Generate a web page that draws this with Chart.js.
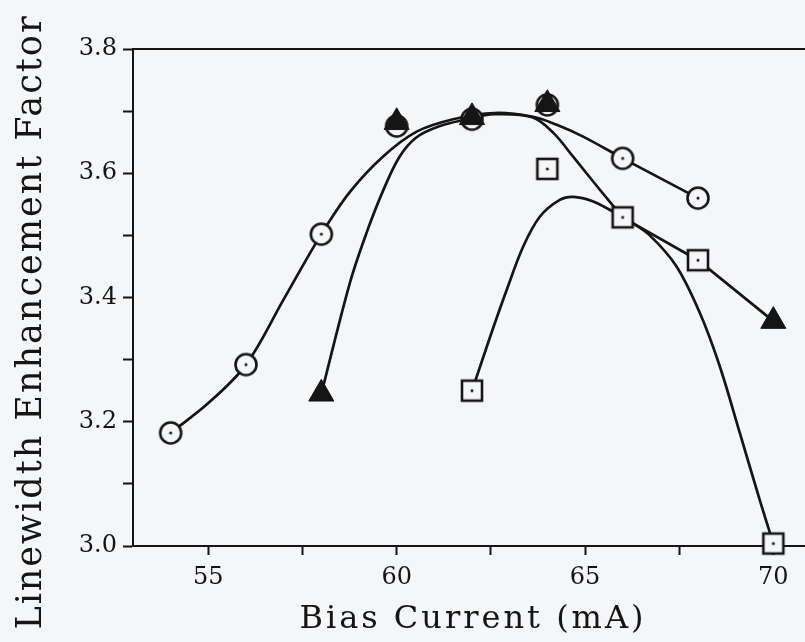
<!DOCTYPE html>
<html lang="en">
<head>
  <meta charset="UTF-8">
  <title>Linewidth Enhancement Factor vs Bias Current</title>
  <style type="text/css">
    body, html {
      margin: 0;
      padding: 0;
      overflow: hidden;
      background-color: #f5f6f8;
    }

    /* a little wider than the window: the right frame sits just off screen */
    #alpha-chart {
      display: block;
    }
  </style>
  <script src="https://cdn.jsdelivr.net/npm/chart.js"></script>
</head>
<body>

  <canvas id="alpha-chart" width="811" height="642"></canvas>

  <script>
    // measured points (bias current in mA, linewidth enhancement factor)
    const circleX = [54, 56, 58, 60, 62, 64, 66, 68];
    const circleY = [3.182, 3.292, 3.502, 3.676, 3.687, 3.710, 3.624, 3.560];

    const triangleX = [58, 60, 62, 64, 70];
    const triangleY = [3.245, 3.682, 3.690, 3.711, 3.362];

    const squareX = [62, 64, 66, 68, 70];
    const squareY = [3.250, 3.607, 3.529, 3.460, 3.004];

    // fitted curves
    const circleFitX = [54, 55, 56, 57, 58, 58.76, 59.64, 60.53, 61.5, 62.6, 63.62, 64.25, 64.95, 66];
    const circleFitY = [3.182, 3.230, 3.292, 3.397, 3.502, 3.570, 3.627, 3.667, 3.687, 3.697, 3.691, 3.678, 3.659, 3.624];
    const circleTailX = [66, 68];
    const circleTailY = [3.624, 3.560];

    const triangleFitX = [58, 58.76, 59.2, 59.64, 60.08, 60.53, 61.15, 61.8, 62.6, 63.6, 64.16, 64.68, 65.4, 66];
    const triangleFitY = [3.245, 3.424, 3.504, 3.572, 3.627, 3.658, 3.676, 3.686, 3.695, 3.690, 3.665, 3.627, 3.573, 3.529];
    const triangleTailX = [66, 68, 70];
    const triangleTailY = [3.529, 3.460, 3.362];

    const squareFitX = [62, 62.5, 62.92, 63.36, 63.8, 64.33, 64.69, 65.2, 65.75, 66.2, 66.72, 67.43, 68.05, 68.58, 69.11, 69.64, 70];
    const squareFitY = [3.250, 3.340, 3.412, 3.482, 3.530, 3.557, 3.562, 3.555, 3.538, 3.522, 3.500, 3.450, 3.375, 3.289, 3.182, 3.074, 3.004];

    // axis ticks
    const xTicks = [55, 57.5, 60, 62.5, 65, 67.5, 70];
    const yTicks = [3.0, 3.1, 3.2, 3.3, 3.4, 3.5, 3.6, 3.7, 3.8];

    const ink = '#151515';
    const paper = '#f5f6f8';
    const serif = "'DejaVu Serif', serif";

    function toPoints(xs, ys) {
      return xs.map((x, i) => ({ x: x, y: ys[i] }));
    }

    // open circle / open square with a small dot in the middle
    function makeMarker(kind) {
      const c = document.createElement('canvas');
      c.width = 26;
      c.height = 26;
      const g = c.getContext('2d');
      g.fillStyle = paper;
      g.strokeStyle = ink;
      g.lineWidth = 2.6;
      if (kind === 'circle') {
        g.beginPath();
        g.arc(13, 13, 10.5, 0, Math.PI * 2);
        g.fill();
        g.stroke();
      } else {
        g.fillRect(3, 3, 20, 20);
        g.strokeRect(3, 3, 20, 20);
      }
      g.fillStyle = ink;
      g.beginPath();
      g.arc(13, 13, 1.5, 0, Math.PI * 2);
      g.fill();
      return c;
    }

    function fitLine(xs, ys, curved) {
      return {
        data: toPoints(xs, ys),
        borderColor: ink,
        borderWidth: 2.7,
        pointRadius: 0,
        fill: false,
        tension: curved ? 0.35 : 0,
        order: 5
      };
    }

    // fixed frame: no extra side padding for the horizontal axes
    function fitHorizontal(height) {
      return function(scale) {
        scale.height = height;
        scale.paddingLeft = 0;
        scale.paddingRight = 0;
      };
    }

    // axis titles drawn by hand: the original face is wider than DejaVu,
    // so a bit of letter spacing keeps the lengths right
    const axisTitles = {
      id: 'axisTitles',
      afterDraw(chart) {
        const ctx = chart.ctx;
        ctx.save();
        ctx.fillStyle = ink;
        ctx.textAlign = 'center';
        ctx.textBaseline = 'alphabetic';

        ctx.font = '32px ' + serif;
        ctx.letterSpacing = '3px';
        const area = chart.chartArea;
        ctx.fillText('Bias Current (mA)', (area.left + area.right) / 2 + 1, 628);

        ctx.translate(41, 322);
        ctx.rotate(-Math.PI / 2);
        ctx.font = '35px ' + serif;
        ctx.letterSpacing = '2px';
        ctx.fillText('Linewidth Enhancement Factor', 0, 0);
        ctx.restore();
      }
    };

    const ctx = document.getElementById('alpha-chart').getContext('2d');
    const chart = new Chart(ctx, {
      type: 'line',
      data: {
        datasets: [
          {
            data: toPoints(triangleX, triangleY),
            showLine: false,
            pointStyle: 'triangle',
            pointRadius: 14.5,
            backgroundColor: ink,
            borderColor: ink,
            borderWidth: 1,
            clip: false,
            order: 0
          },
          {
            data: toPoints(circleX, circleY),
            showLine: false,
            pointStyle: makeMarker('circle'),
            clip: false,
            order: 1
          },
          {
            data: toPoints(squareX, squareY),
            showLine: false,
            pointStyle: makeMarker('square'),
            clip: false,
            order: 2
          },
          fitLine(circleFitX, circleFitY, true),
          fitLine(circleTailX, circleTailY, false),
          fitLine(triangleFitX, triangleFitY, true),
          fitLine(triangleTailX, triangleTailY, false),
          fitLine(squareFitX, squareFitY, true)
        ]
      },
      options: {
        responsive: false,
        animation: false,
        layout: {
          autoPadding: false,
          padding: { top: 49, right: 0, bottom: 0, left: 0 }
        },
        plugins: {
          legend: { display: false },
          tooltip: { enabled: false }
        },
        scales: {
          x: {
            type: 'linear',
            min: 53,
            max: 71,
            afterFit: fitHorizontal(96),
            afterBuildTicks: function(scale) {
              scale.ticks = xTicks.map(v => ({ value: v }));
            },
            border: { display: true, color: ink, width: 2 },
            grid: {
              drawOnChartArea: false,
              drawTicks: true,
              tickLength: 9,
              tickColor: ink,
              tickWidth: 2
            },
            ticks: {
              autoSkip: false,
              maxRotation: 0,
              padding: 8,
              color: ink,
              font: { family: serif, size: 24 },
              callback: function(value) {
                return value % 5 === 0 ? String(value) : '';
              }
            }
          },
          xTop: {
            type: 'linear',
            position: 'top',
            min: 53,
            max: 71,
            afterFit: fitHorizontal(0),
            border: { display: true, color: ink, width: 2 },
            grid: { display: false },
            ticks: { display: false }
          },
          y: {
            min: 3.0,
            max: 3.8,
            afterFit: function(scale) {
              scale.width = 133;
              scale.paddingTop = 0;
              scale.paddingBottom = 0;
            },
            afterBuildTicks: function(scale) {
              scale.ticks = yTicks.map(v => ({ value: v }));
            },
            border: { display: true, color: ink, width: 2 },
            grid: {
              drawOnChartArea: false,
              drawTicks: true,
              tickLength: 10,
              tickColor: ink,
              tickWidth: 2
            },
            ticks: {
              autoSkip: false,
              padding: 6,
              color: ink,
              font: { family: serif, size: 24 },
              callback: function(value) {
                const tenths = Math.round(value * 10);
                return tenths % 2 === 0 ? (tenths / 10).toFixed(1) : '';
              }
            }
          }
        }
      },
      plugins: [axisTitles]
    });
  </script>
</body>
</html>
